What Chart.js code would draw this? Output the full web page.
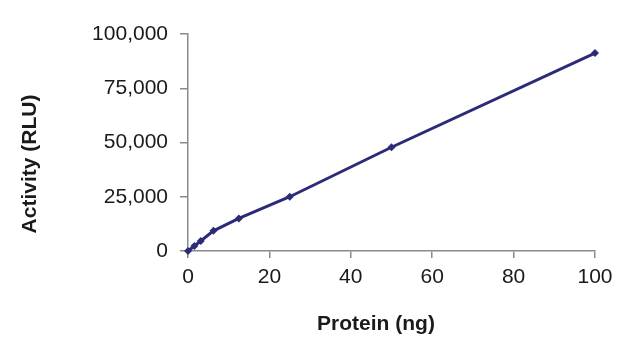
<!DOCTYPE html>
<html>
<head>
<meta charset="utf-8">
<script src="https://cdn.jsdelivr.net/npm/chart.js@4"></script>
<style>
  html, body { margin: 0; padding: 0; background: #fff; }
  #wrap { width: 640px; height: 353px; }
</style>
</head>
<body>
<div id="wrap"><canvas id="chart" width="640" height="353"></canvas></div>
<script>
// Data
const protein = [0, 1.5625, 3.125, 6.25, 12.5, 25, 50, 100];
const activity = [0, 2300, 4600, 9300, 15000, 25000, 47800, 91200];
const xTitle = 'Protein (ng)';
const yTitle = 'Activity (RLU)';

const FONT = '"Liberation Sans", Arial, sans-serif';
const navy = '#2c2b78';
const axisGray = '#8a8a8a';

// Axis titles sit a bit off the plot centre in the original, so draw them by hand
const axisTitles = {
  id: 'axisTitles',
  afterDraw(chart) {
    const ctx = chart.ctx;
    ctx.save();
    ctx.fillStyle = '#1a1a1a';
    ctx.font = 'bold 21px ' + FONT;
    ctx.textAlign = 'center';
    ctx.textBaseline = 'middle';
    ctx.fillText(xTitle, 376, 324);
    ctx.translate(30, 164);
    ctx.rotate(-Math.PI / 2);
    ctx.fillText(yTitle, 0, 0);
    ctx.restore();
  }
};

const ctx = document.getElementById('chart').getContext('2d');
new Chart(ctx, {
  type: 'scatter',
  data: {
    datasets: [{
      data: protein.map((x, i) => ({ x: x, y: activity[i] })),
      showLine: true,
      borderColor: navy,
      backgroundColor: navy,
      borderWidth: 3,
      pointStyle: 'rectRot',
      pointRadius: 4,
      pointBorderWidth: 0,
      tension: 0,
      clip: false
    }]
  },
  options: {
    responsive: false,
    animation: false,
    events: [],
    layout: { padding: { top: 34, right: 45, left: 0, bottom: 0 } },
    plugins: { legend: { display: false }, tooltip: { enabled: false } },
    scales: {
      x: {
        type: 'linear',
        min: 0,
        max: 100,
        afterFit(scale) { scale.height = 102; },
        border: { display: true, color: axisGray, width: 1.5 },
        grid: { drawOnChartArea: false, drawTicks: true, tickLength: 7, color: axisGray, lineWidth: 1.5 },
        ticks: { stepSize: 20, color: '#1a1a1a', padding: 7, maxRotation: 0, font: { family: FONT, size: 21 } }
      },
      y: {
        min: 0,
        max: 100000,
        afterFit(scale) { scale.width = 188; },
        border: { display: true, color: axisGray, width: 1.5 },
        grid: { drawOnChartArea: false, drawTicks: true, tickLength: 8, color: axisGray, lineWidth: 1.5 },
        ticks: {
          stepSize: 25000,
          color: '#1a1a1a',
          padding: 12,
          font: { family: FONT, size: 21 },
          callback: v => v.toLocaleString('en-US')
        }
      }
    }
  },
  plugins: [axisTitles]
});
</script>
</body>
</html>
